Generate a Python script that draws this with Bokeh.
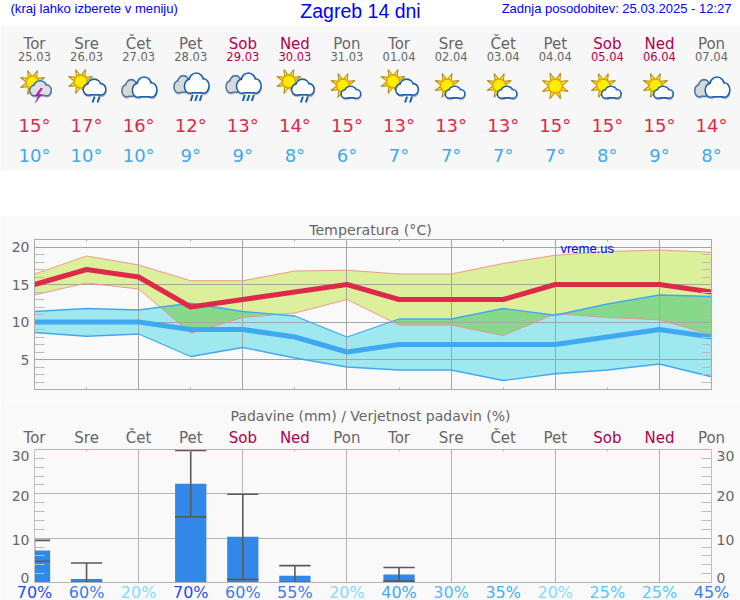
import math
import numpy as np
from bokeh.core.properties import value
from bokeh.embed import file_html
from bokeh.models import FixedTicker, Grid, LinearAxis, Range1d
from bokeh.plotting import figure
from bokeh.resources import INLINE

# ---------- data ----------
day_names = ["Tor", "Sre", "Čet", "Pet", "Sob", "Ned", "Pon", "Tor", "Sre", "Čet", "Pet", "Sob", "Ned", "Pon"]
dates = ["25.03", "26.03", "27.03", "28.03", "29.03", "30.03", "31.03", "01.04", "02.04", "03.04", "04.04", "05.04", "06.04", "07.04"]
icons = ["storm", "sunrain", "cloud", "rain", "rain", "sunrain", "suncloud", "sunrain", "suncloud", "suncloud", "sun", "suncloud", "suncloud", "cloud"]
temp_hi = [15, 17, 16, 12, 13, 14, 15, 13, 13, 13, 15, 15, 15, 14]
temp_lo = [10, 10, 10, 9, 9, 8, 6, 7, 7, 7, 7, 8, 9, 8]
hi_upper = [16.4, 18.8, 17.6, 15.5, 15.5, 16.8, 16.9, 16.4, 16.4, 17.8, 18.9, 19.4, 19.6, 19.3]
hi_lower = [13.6, 15.2, 14.4, 8.5, 10.6, 11.2, 13.0, 9.6, 9.6, 8.2, 11.1, 10.6, 10.3, 8.3]
lo_upper = [11.4, 11.8, 11.6, 12.5, 11.4, 10.8, 8.0, 10.4, 10.4, 11.8, 10.9, 12.4, 13.6, 13.4]
lo_lower = [8.6, 8.1, 8.4, 5.4, 6.6, 5.2, 4.0, 3.6, 3.6, 2.2, 3.1, 3.6, 4.4, 2.7]
rain_mm = [7.2, 0.8, 0, 22.3, 10.3, 1.5, 0, 1.8, 0, 0, 0, 0, 0, 0]
rain_top = [9.5, 4.4, None, 29.8, 19.9, 3.8, None, 3.4, None, None, None, None, None, None]
rain_low = [4.8, 0.0, None, 14.8, 0.7, 0.0, None, 0.3, None, None, None, None, None, None]
rain_prob = [70, 60, 20, 70, 60, 55, 20, 40, 30, 35, 20, 25, 25, 45]
temp_ticks = [5, 10, 15, 20]
rain_ticks = [0, 10, 20, 30]

# ---------- style ----------
BG = "#f9f9f9"
GREY = "#666666"
WEEKEND = "#b0004f"
RED = "#dc2a48"
BLUE = "#40a8f0"
SANS = "DejaVu Sans"
ARIAL = "Liberation Sans"
LINK = "#0000ff"
EDGE = "#1a60b0"
FRAME_L, FRAME_R = 34, 711
STEP = (FRAME_R - FRAME_L) / 13
idx = list(range(14))
day_color = [WEEKEND if d in ("Sob", "Ned") else GREY for d in day_names]
prob_colors = {70: "#1c50e4", 60: "#3a80e8", 55: "#3a80e8", 45: "#3a80e8", 40: "#44a8f4",
               35: "#44b0f8", 30: "#50bcfc", 25: "#58c8fc", 20: "#84dcfc"}
# label centres of the precipitation scale, in pixels of the page, as in the reference
rain_label_y = {0: 577.3, 10: 539.3, 20: 495, 30: 455}


def place(p, top):
    p.styles = {"position": "absolute", "left": "0px", "top": f"{top}px"}


def base_fig(h, top, bottom):
    p = figure(width=740, height=h, x_range=Range1d(0, 13), output_backend="svg",
               toolbar_location=None, x_axis_type=None, y_axis_type=None,
               min_border_left=FRAME_L, min_border_right=740 - FRAME_R,
               min_border_top=top, min_border_bottom=bottom,
               background_fill_color=BG, border_fill_color=BG)
    p.xgrid.visible = False
    p.ygrid.visible = False
    return p


def pixel_fig(h, fill):
    p = figure(width=740, height=h, x_range=Range1d(0, 740), y_range=Range1d(h, 0),
               output_backend="svg", toolbar_location=None, x_axis_type=None, y_axis_type=None,
               min_border=0, background_fill_color=fill, border_fill_color=fill, outline_line_color=None)
    p.xgrid.visible = False
    p.ygrid.visible = False
    return p


# ---------- header ----------
head = pixel_fig(215, "white")
head.quad(left=0, right=740, top=25, bottom=170, fill_color="#f7f7f7", line_color=None)
place(head, 0)


def put(p, x, y, s, size, color, font=SANS, align="center"):
    p.text([x], [y], text=[s], text_font=value(font), text_font_size=size, text_color=color,
           text_align=align, text_baseline="middle")


def cloud(cx, cy, w, h, fill="white", edge=EDGE, shadow=True):
    xs = [cx - 0.29 * w, cx - 0.02 * w, cx + 0.3 * w]
    ys = [cy + 0.15 * h, cy - 0.14 * h, cy + 0.14 * h]
    ws = [0.42 * w, 0.56 * w, 0.4 * w]
    hs = [0.7 * h, 0.8 * h, 0.72 * h]
    left, right, bottom = cx - 0.29 * w, cx + 0.3 * w, cy + 0.48 * h
    if shadow:
        head.ellipse([x + 0.5 for x in xs], [y + 1.8 for y in ys], width=ws, height=hs,
                     fill_color="#b8b8b8", line_color="#b8b8b8", line_width=2)
        head.quad(left=left, right=right, top=cy, bottom=bottom + 1.8, fill_color="#b8b8b8", line_color=None)
    head.ellipse(xs, ys, width=ws, height=hs, fill_color=edge, line_color=edge, line_width=3.2)
    head.quad(left=left, right=right, top=cy, bottom=bottom + 1.4, fill_color=edge, line_color=None)
    head.ellipse(xs, ys, width=ws, height=hs, fill_color=fill, line_color=None)
    head.quad(left=left, right=right, top=cy, bottom=bottom - 0.2, fill_color=fill, line_color=None)


def sun(cx, cy, r, ray):
    xs, ys = [], []
    for k in range(8):
        a = math.pi * k / 4 + math.pi / 8
        side = 0.3
        xs.append([cx + r * math.cos(a - side), cx + ray * math.cos(a), cx + r * math.cos(a + side)])
        ys.append([cy + r * math.sin(a - side), cy + ray * math.sin(a), cy + r * math.sin(a + side)])
    head.patches(xs, ys, fill_color="#ffee10", line_color="#b09020", line_width=1.1)
    head.ellipse([cx], [cy], width=2 * r, height=2 * r, fill_color="#ffee00", line_color="#f09c00", line_width=1.4)


def drops(xs, y0, y1):
    for x in xs:
        head.segment(x + 1, y0, x - 1, y1, line_color=EDGE, line_width=2)


def double_cloud(cx, cy):
    cloud(cx - 7, cy + 1, 18, 15, fill="#d8d8d8", edge="#4c78a8")
    cloud(cx + 6, cy, 23, 18)


for i, kind in enumerate(icons):
    cx = FRAME_L + i * STEP
    if kind == "storm":
        sun(cx - 2, 82, 6.5, 13)
        cloud(cx + 6, 88, 20, 13, fill="#e0e0e0", edge="#4c78a8")
        head.patch([cx + 6, cx + 1, cx + 4, cx + 1, cx + 7, cx + 4, cx + 8],
                   [88, 95, 95, 102, 94, 94, 88], fill_color="#d020c0", line_color="#a01090", line_width=0.6)
    elif kind == "sunrain":
        sun(cx - 6, 81, 6.5, 13)
        cloud(cx + 8, 87, 21, 14)
        drops([cx + 7, cx + 12], 96, 102)
    elif kind == "cloud":
        double_cloud(cx, 87)
    elif kind == "rain":
        double_cloud(cx, 83)
        drops([cx + 1, cx + 5.5, cx + 10], 94.5, 100.5)
    elif kind == "suncloud":
        sun(cx - 4, 85, 6.5, 13)
        cloud(cx + 4, 92, 18, 10)
    elif kind == "sun":
        sun(cx, 85.5, 7, 14)
    put(head, cx, 43, day_names[i], "15px", day_color[i])
    put(head, cx, 55.5, dates[i], "11.5px", day_color[i])
    put(head, cx, 125, f"{temp_hi[i]}°", "18px", RED)
    put(head, cx, 155, f"{temp_lo[i]}°", "18px", BLUE)

put(head, 10, 7.5, "(kraj lahko izberete v meniju)", "13.1px", LINK, ARIAL, "left")
put(head, 360, 10, "Zagreb 14 dni", "19.5px", LINK, ARIAL)
put(head, 731, 7.5, "Zadnja posodobitev: 25.03.2025 - 12:27", "13px", LINK, ARIAL, "right")

# ---------- temperature ----------
t = base_fig(185, 24, 11)
place(t, 215)
t.y_range = Range1d(1, 21)
t.outline_line_color = "#aaaaaa"

xf = np.linspace(0, 13, 1301)
ov_lo = np.maximum(np.interp(xf, idx, hi_lower), np.interp(xf, idx, lo_lower))
ov_hi = np.minimum(np.interp(xf, idx, hi_upper), np.interp(xf, idx, lo_upper))
ov_hi = np.maximum(ov_lo, ov_hi)

t.varea(idx, hi_lower, hi_upper, fill_color="#dcf09c", level="image")
t.varea(idx, lo_lower, lo_upper, fill_color="#9fe8f0", level="image")
t.varea(xf, ov_lo, ov_hi, fill_color="#88d88c", level="image")
t.line(idx, hi_upper, line_color="#f08c80", line_width=0.9)
t.line(idx, hi_lower, line_color="#f08c80", line_width=0.9)
t.line(idx, lo_upper, line_color=BLUE, line_width=1.3)
t.line(idx, lo_lower, line_color=BLUE, line_width=1.3)
t.line(idx, temp_lo, line_color=BLUE, line_width=5)
t.line(idx, temp_hi, line_color=RED, line_width=5)

t_minor = [v for v in range(2, 21) if v not in temp_ticks]
left = LinearAxis(ticker=FixedTicker(ticks=temp_ticks, minor_ticks=t_minor), axis_line_color="#aaaaaa",
                  major_tick_line_color="#aaaaaa", major_tick_in=0, major_tick_out=0,
                  minor_tick_line_color="#bbbbbb", minor_tick_in=10, minor_tick_out=0,
                  major_label_text_color=GREY, major_label_text_font=SANS,
                  major_label_text_font_size="14px", major_label_standoff=5)
t.add_layout(left, "left")
right = LinearAxis(ticker=FixedTicker(ticks=temp_ticks, minor_ticks=t_minor), axis_line_color="#aaaaaa",
                   major_tick_in=0, major_tick_out=0, minor_tick_line_color="#bbbbbb",
                   minor_tick_in=10, minor_tick_out=0,
                   major_label_overrides={v: "" for v in temp_ticks})
t.add_layout(right, "right")
odd = [i for i in idx if i % 2 == 1]
even = [i for i in idx if i % 2 == 0 and 0 < i < 13]
for where in ("above", "below"):
    ax = LinearAxis(ticker=FixedTicker(ticks=odd), axis_line_color="#aaaaaa",
                    major_tick_line_color="#aaaaaa", major_tick_in=2, major_tick_out=0,
                    minor_tick_line_color=None, major_label_overrides={i: "" for i in odd})
    t.add_layout(ax, where)
t.add_layout(Grid(dimension=0, ticker=FixedTicker(ticks=even), grid_line_color="#a4a4a4"))
t.add_layout(Grid(dimension=1, ticker=FixedTicker(ticks=temp_ticks), grid_line_color="#a4a4a4"))

# ---------- precipitation ----------
r = base_fig(200, 49, 18)
place(r, 400)
r.y_range = Range1d(0, 30)
r.outline_line_color = None

r.add_layout(Grid(dimension=0, ticker=FixedTicker(ticks=even), grid_line_color="#b4b4b4"))
r.add_layout(Grid(dimension=1, ticker=FixedTicker(ticks=rain_ticks[1:-1]), grid_line_color="#b4b4b4"))
r.vbar(x=idx, top=rain_mm, bottom=0, width=0.6, fill_color="#3188e8", line_color=None)

w_idx = [i for i in idx if rain_top[i] is not None]
w_top = [rain_top[i] for i in w_idx]
w_low = [rain_low[i] for i in w_idx]
WH = "#5a5a5a"
r.segment(w_idx, w_low, w_idx, w_top, line_color=WH, line_width=1.6)
r.segment([i - 0.3 for i in w_idx], w_top, [i + 0.3 for i in w_idx], w_top, line_color=WH, line_width=1.6)
r.segment([i - 0.3 for i in w_idx], w_low, [i + 0.3 for i in w_idx], w_low, line_color=WH, line_width=1.6)

r_minor = [v for v in range(2, 30, 2) if v not in rain_ticks]
for where in ("left", "right"):
    ax = LinearAxis(ticker=FixedTicker(ticks=rain_ticks, minor_ticks=r_minor), axis_line_color="#c0c0c0",
                    major_tick_in=0, major_tick_out=0, minor_tick_line_color="#bbbbbb",
                    minor_tick_in=10, minor_tick_out=0,
                    major_label_overrides={v: "" for v in rain_ticks})
    r.add_layout(ax, where)
bot = LinearAxis(ticker=FixedTicker(ticks=odd), axis_line_color="#b4b4b4", major_tick_line_color=None,
                 minor_tick_line_color=None, major_label_overrides={i: "" for i in odd})
r.add_layout(bot, "below")
top_ax = LinearAxis(ticker=FixedTicker(ticks=odd), axis_line_color="#e0a0bc", major_tick_line_color="#e0a0bc",
                    major_tick_in=2, major_tick_out=0, minor_tick_line_color=None,
                    major_label_overrides={i: "" for i in odd})
r.add_layout(top_ax, "above")

# ---------- texts outside the frames: a transparent page-sized layer on top ----------
lay = pixel_fig(600, None)
place(lay, 0)
put(lay, 370, 229, "Temperatura (°C)", "14.2px", GREY)
put(lay, 560, 247.5, "vreme.us", "13px", LINK, ARIAL, "left")
put(lay, 370, 415, "Padavine (mm) / Verjetnost padavin (%)", "14px", GREY)
for v in rain_ticks:
    put(lay, 29, rain_label_y[v], str(v), "14px", GREY, SANS, "right")
    put(lay, 716, rain_label_y[v], str(v), "14px", GREY, SANS, "left")
for i in idx:
    cx = FRAME_L + i * STEP
    put(lay, cx, 437, day_names[i], "15px", day_color[i])
    put(lay, cx, 591.5, f"{rain_prob[i]}%", "16px", prob_colors[rain_prob[i]])

open("out.html", "w").write(file_html([head, t, r, lay], INLINE))
